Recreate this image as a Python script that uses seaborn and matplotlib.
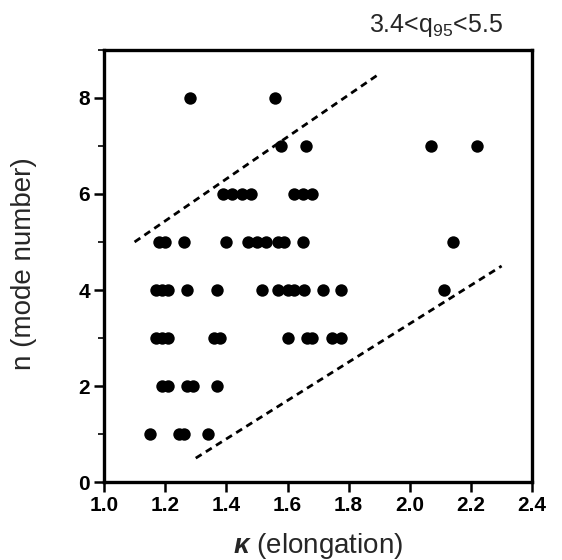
import matplotlib
matplotlib.use("Agg")
import matplotlib.pyplot as plt
import seaborn as sns
import pandas as pd
from matplotlib.ticker import MultipleLocator

# data
n8 = [1.28, 1.56]
n7 = [1.58, 1.66, 2.07, 2.22]
n6 = [1.39, 1.42, 1.45, 1.48, 1.62, 1.65, 1.68]
n5 = [1.18, 1.20, 1.26, 1.40, 1.47, 1.50, 1.53, 1.57, 1.59, 1.65, 2.14]
n4 = [1.17, 1.19, 1.21, 1.27, 1.37, 1.515, 1.57, 1.60, 1.62, 1.655, 1.715, 1.775, 2.11]
n3 = [1.17, 1.19, 1.21, 1.36, 1.38, 1.60, 1.665, 1.68, 1.745, 1.775]
n2 = [1.19, 1.21, 1.27, 1.29, 1.37]
n1 = [1.15, 1.245, 1.26, 1.34]

upper_k = [1.1, 1.9]
upper_n = [5.0, 8.5]
lower_k = [1.3, 2.3]
lower_n = [0.5, 4.5]

x_ticks = [1.0, 1.2, 1.4, 1.6, 1.8, 2.0, 2.2, 2.4]
y_ticks = [0, 2, 4, 6, 8]

rows = {8: n8, 7: n7, 6: n6, 5: n5, 4: n4, 3: n3, 2: n2, 1: n1}
recs = [(k, n) for n, ks in rows.items() for k in ks]
df = pd.DataFrame(recs, columns=["kappa", "n"])

sns.set_style("ticks")
plt.rcParams['font.family'] = ['Liberation Sans', 'DejaVu Sans']
plt.rcParams['mathtext.fontset'] = 'custom'
plt.rcParams['mathtext.rm'] = 'Liberation Sans'
plt.rcParams['mathtext.it'] = 'Liberation Sans:italic'
plt.rcParams['mathtext.bf'] = 'Liberation Sans:italic:bold'

fig = plt.figure(figsize=(5.62, 5.60), dpi=100)
ax = fig.add_axes([0.185, 0.139, 0.762, 0.772])

sns.scatterplot(data=df, x="kappa", y="n", ax=ax, color="black",
                s=80, edgecolor="black", linewidth=0, legend=False)
ax.plot(upper_k, upper_n, color="black", lw=2.0, ls=(0, (2.5, 1.8)))
ax.plot(lower_k, lower_n, color="black", lw=2.0, ls=(0, (2.5, 1.8)))

ax.set_xlim(1.0, 2.4)
ax.set_ylim(0, 9)
ax.set_xticks(x_ticks)
ax.set_xticklabels([f"{v:.1f}" for v in x_ticks])
ax.set_yticks(y_ticks)
ax.yaxis.set_minor_locator(MultipleLocator(1))

for sp in ax.spines.values():
    sp.set_visible(True)
    sp.set_linewidth(2.4)
    sp.set_color("black")

ax.tick_params(axis="both", which="major", direction="out", length=7,
               width=1.8, labelsize=15, colors="black", pad=3)
ax.tick_params(axis="y", which="minor", direction="out", length=4, width=1.4)
for lab in ax.get_xticklabels() + ax.get_yticklabels():
    lab.set_fontweight("bold")

ax.set_xlabel(r"$\mathbf{\kappa}$ (elongation)", fontsize=20)
ax.set_ylabel("n (mode number)", fontsize=20)
ax.xaxis.set_label_coords(0.5, -0.113)
ax.yaxis.set_label_coords(-0.157, 0.505)

fig.text(0.895, 0.955, r"3.4<q$_{95}$<5.5", ha="right", va="center", fontsize=18)

fig.savefig("out.png", dpi=100)
